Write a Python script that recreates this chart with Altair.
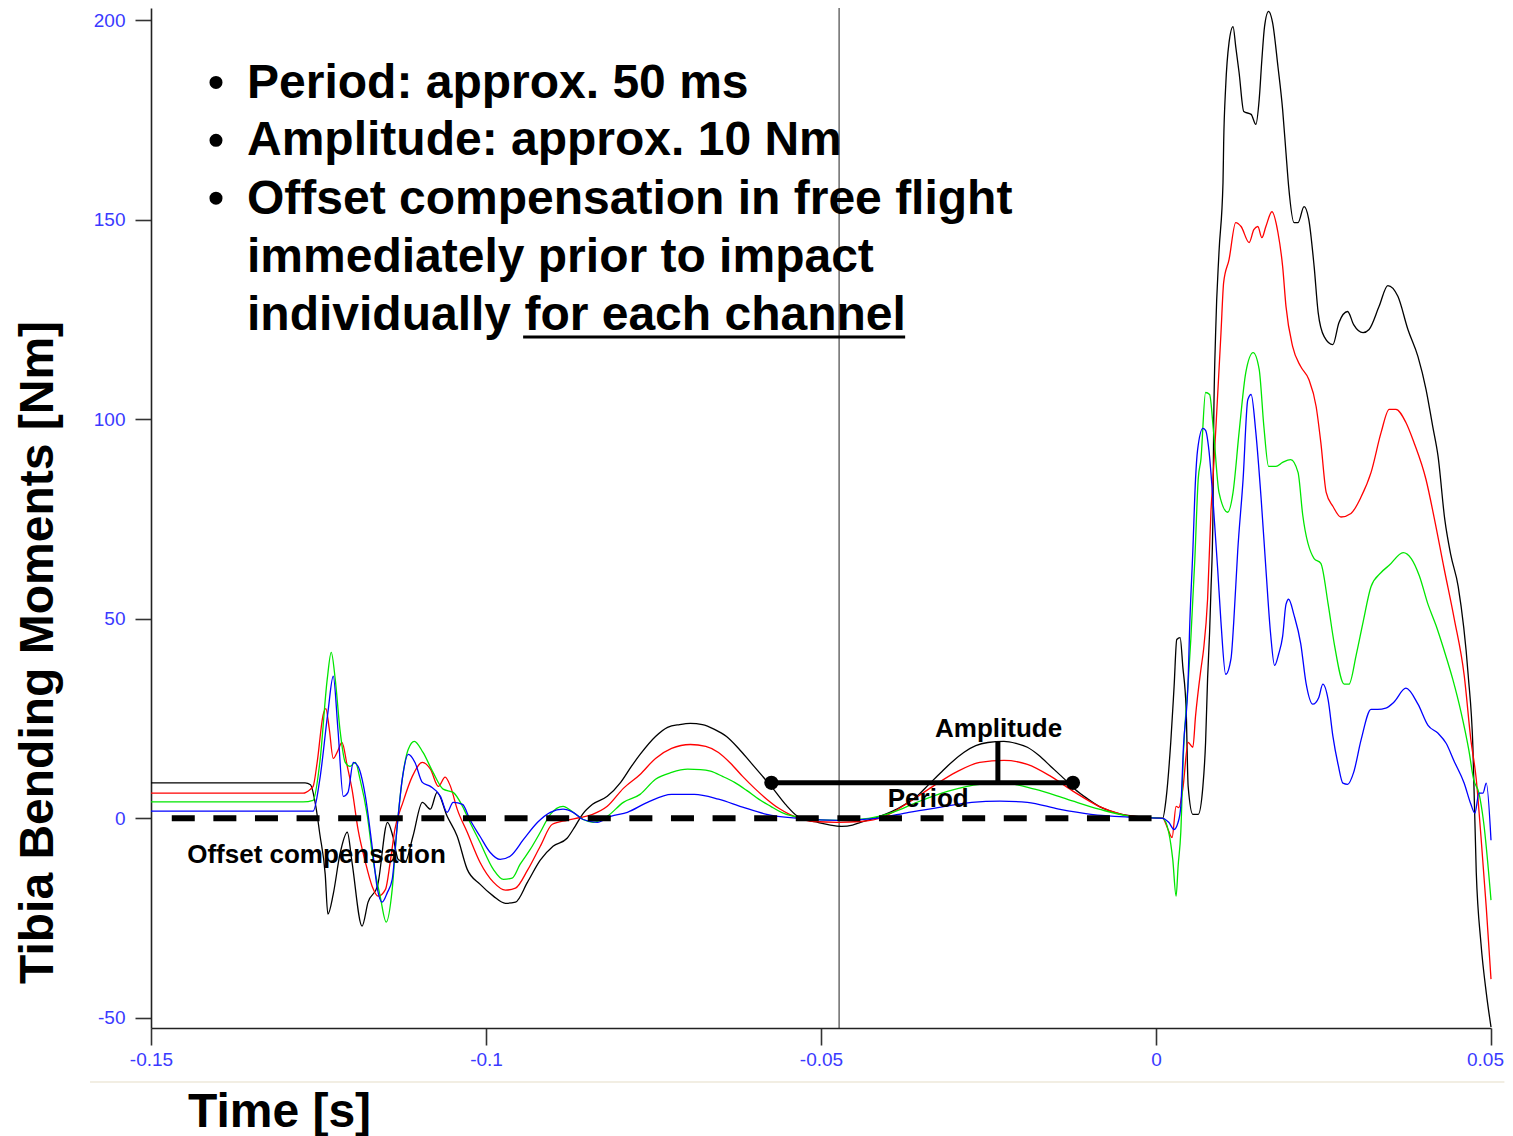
import altair as alt
import pandas as pd

# Time in milliseconds (axis labels shown in seconds), moments in Nm
black = [(-150, 8.9), (-127.7, 8.9), (-127.0, 8.9), (-126.2, 8.4), (-125.4, 3.0), (-124.8, -4.0),
         (-124.0, -14.0), (-123.6, -24.0), (-122.8, -19.0), (-121.8, -9.0), (-120.7, -3.5), (-120.0, -11.0),
         (-118.5, -27.0), (-117.6, -21.0), (-116.2, -17.0), (-114.7, -1.0), (-113.9, -4.5), (-113.1, -10.3),
         (-112.1, -11.0), (-110.9, -4.5), (-109.5, 4.0), (-108.3, 2.3), (-107.3, 6.5), (-105.8, 0.5),
         (-104.3, -4.5), (-102.8, -12.8), (-100.9, -16.5), (-98.9, -19.5), (-97.1, -21.3), (-95.6, -21.0),
         (-93.8, -16.0), (-91.9, -10.5), (-90.0, -7.0), (-87.9, -5.0), (-86.7, -2.0), (-85.6, 1.0),
         (-84.1, 3.5), (-81.9, 5.5), (-79.9, 9.0), (-78.3, 13.0), (-77.0, 16.0), (-74.7, 20.5),
         (-72.9, 22.8), (-71.1, 23.5), (-69.5, 23.8), (-67.7, 23.5), (-65.9, 22.3), (-64.1, 20.5),
         (-62.3, 17.5), (-60.5, 14.0), (-58.7, 10.5), (-57.1, 7.3), (-55.3, 3.5), (-53.5, 0.5),
         (-51.9, -0.5), (-50.5, -1.0), (-48.6, -1.7), (-46.9, -2.0), (-45.3, -1.7), (-44.1, -1.0),
         (-41.7, 0.2), (-38.7, 2.3), (-35.7, 5.5), (-33.9, 8.5), (-32.1, 11.5), (-30.4, 14.2),
         (-28.7, 16.5), (-26.9, 18.2), (-25.1, 19.0), (-22.7, 19.3), (-20.9, 18.8), (-19.2, 17.8),
         (-17.5, 15.8), (-15.7, 13.0), (-13.9, 10.2), (-12.1, 7.3), (-10.3, 5.0), (-8.5, 3.0),
         (-6.8, 1.8), (-5.1, 1.0), (-2.3, 0.4), (1.0, 0.0), (1.5, 4.8), (2.2, 19.0), (2.7, 33.0),
         (3.1, 44.8), (3.6, 45.3), (4.0, 38.0), (4.5, 27.3), (4.8, 8.0), (5.5, 1.0), (6.3, 1.0),
         (7.0, 8.0), (7.4, 19.0), (7.7, 35.0), (8.0, 46.6), (8.2, 57.0), (8.5, 76.0), (8.6, 96.7),
         (8.9, 121.7), (9.4, 141.8), (10.0, 159.3), (10.1, 169.3), (10.4, 183.4), (10.9, 194.4),
         (11.5, 198.4), (11.9, 193.4), (12.4, 186.9), (13.1, 177.1), (14.2, 176.4), (14.9, 173.9),
         (15.4, 180.1), (15.8, 190.1), (16.2, 198.4), (16.8, 202.2), (17.4, 199.4), (18.2, 188.4),
         (18.9, 177.6), (19.4, 166.8), (19.8, 158.3), (20.6, 149.3), (21.2, 149.3), (22.1, 153.3),
         (22.8, 150.1), (23.6, 138.3), (24.2, 126.8), (25.1, 120.7), (26.4, 118.7), (27.3, 124.2),
         (28.6, 127.0), (29.5, 123.7), (30.9, 121.7), (31.8, 122.5), (33.3, 128.3), (34.6, 133.5),
         (36.1, 130.8), (37.6, 122.5), (39.1, 115.7), (40.3, 107.5), (41.3, 98.2), (42.1, 90.7),
         (43.1, 74.9), (44.0, 66.0), (45.1, 58.1), (46.6, 35.8), (47.3, 17.8), (47.8, -13.5),
         (48.5, -31.3), (49.3, -43.8), (50.0, -52.3)]

red = [(-150, 6.3), (-127.3, 6.3), (-126.2, 7.3), (-125.8, 8.0), (-125.2, 14.0), (-124.3, 26.0),
       (-123.9, 27.5), (-123.4, 22.5), (-122.8, 15.0), (-122.1, 17.0), (-121.5, 19.0), (-120.7, 13.0),
       (-120.0, 7.3), (-119.1, -2.8), (-118.0, -11.0), (-117.0, -17.0), (-116.1, -19.5), (-115.0, -17.8),
       (-114.3, -11.0), (-113.6, -2.8), (-112.4, 4.0), (-111.0, 10.5), (-109.5, 14.0), (-108.3, 12.3),
       (-107.1, 8.0), (-106.1, 10.3), (-105.3, 8.0), (-104.3, 2.3), (-102.8, -3.5), (-100.9, -11.0),
       (-98.9, -16.0), (-97.1, -18.0), (-95.6, -17.5), (-93.8, -13.0), (-91.9, -7.0), (-90.1, -1.5),
       (-87.9, -0.5), (-85.9, 0.2), (-84.1, 1.0), (-81.9, 3.0), (-79.5, 7.5), (-77.0, 11.0),
       (-74.7, 15.0), (-72.3, 17.5), (-69.5, 18.5), (-67.2, 18.0), (-65.3, 16.5), (-63.5, 13.8),
       (-61.7, 10.5), (-59.9, 7.5), (-58.1, 4.8), (-56.3, 2.5), (-54.7, 1.0), (-51.1, -0.8),
       (-47.5, -1.0), (-44.1, -0.8), (-40.5, 0.5), (-36.9, 4.0), (-33.3, 8.0), (-29.9, 11.5),
       (-26.3, 14.0), (-22.7, 14.5), (-19.2, 13.5), (-15.7, 10.5), (-12.1, 6.5), (-8.5, 3.0),
       (-5.1, 1.0), (-2.3, 0.3), (1.0, 0.0), (1.8, -2.8), (2.4, -4.8), (3.0, 3.0), (3.4, 2.7),
       (4.0, 7.3), (4.8, 19.0), (5.5, 17.8), (5.9, 25.6), (6.7, 37.3), (7.1, 42.3), (7.7, 54.9),
       (8.2, 76.9), (8.5, 85.0), (8.9, 96.7), (9.7, 121.7), (10.1, 134.3), (10.9, 140.0),
       (11.9, 149.3), (12.7, 148.3), (13.9, 144.3), (14.6, 147.5), (15.2, 148.3), (15.8, 145.5),
       (16.4, 148.3), (17.3, 152.0), (18.2, 146.8), (18.9, 138.3), (19.4, 128.3), (20.4, 118.2),
       (21.6, 113.2), (22.8, 110.0), (23.9, 103.2), (24.6, 94.2), (25.4, 81.7), (26.4, 78.2),
       (27.6, 75.5), (29.1, 76.4), (30.6, 80.5), (32.1, 86.7), (33.6, 96.7), (34.8, 102.5),
       (35.8, 102.5), (37.3, 99.2), (38.5, 94.2), (40.3, 84.9), (41.5, 75.5), (43.0, 62.6),
       (44.5, 50.1), (46.0, 35.8), (47.0, 19.6), (47.8, 9.8), (48.5, -4.5), (49.3, -22.5),
       (50.0, -40.3)]

green = [(-150, 4.1), (-127.3, 4.1), (-125.8, 4.5), (-124.8, 14.0), (-123.7, 34.8), (-123.1, 41.6),
         (-122.5, 34.8), (-121.8, 22.3), (-121.0, 14.0), (-120.3, 13.0), (-119.5, 14.0), (-118.8, 9.8),
         (-117.7, 0.5), (-116.8, -11.0), (-115.8, -19.5), (-114.9, -26.0), (-114.0, -17.8), (-113.3, -2.8),
         (-112.5, 9.8), (-111.6, 17.3), (-110.7, 19.3), (-109.4, 16.5), (-107.9, 11.5), (-106.4, 7.3),
         (-104.9, 6.5), (-103.5, 3.0), (-102.4, -1.0), (-100.9, -6.0), (-98.9, -12.8), (-97.4, -15.3),
         (-96.1, -15.0), (-94.9, -11.5), (-93.4, -7.8), (-91.9, -3.5), (-90.4, 1.0), (-88.5, 3.0),
         (-87.0, 1.5), (-85.5, -0.3), (-84.0, -1.0), (-81.9, 0.5), (-79.5, 4.0), (-77.0, 6.0),
         (-74.7, 9.8), (-72.3, 11.5), (-69.9, 12.3), (-68.0, 12.2), (-66.5, 11.8), (-64.7, 10.5),
         (-62.9, 9.0), (-61.1, 7.0), (-59.3, 4.8), (-57.5, 3.0), (-55.9, 1.5), (-52.3, 0.0),
         (-47.5, -0.5), (-42.9, 0.0), (-39.3, 1.5), (-35.7, 4.0), (-31.0, 6.8), (-26.3, 8.5),
         (-22.7, 8.8), (-18.1, 7.3), (-13.3, 4.8), (-8.5, 2.3), (-3.9, 0.5), (1.0, 0.0), (1.9, -3.5),
         (2.5, -10.3), (3.0, -19.5), (3.3, -12.0), (3.7, -3.5), (4.1, 16.5), (4.8, 34.0), (5.2, 45.0),
         (5.8, 65.0), (6.3, 85.0), (6.7, 89.9), (7.4, 106.7), (8.0, 106.2), (8.6, 96.7), (9.4, 81.7),
         (10.7, 76.7), (11.5, 81.7), (12.4, 96.7), (13.4, 111.7), (14.5, 116.7), (15.4, 112.5),
         (16.1, 98.2), (16.8, 88.2), (17.9, 88.2), (18.9, 89.2), (20.1, 89.9), (21.2, 86.7),
         (21.9, 76.0), (23.6, 65.1), (24.6, 63.9), (25.7, 53.6), (26.6, 43.8), (28.1, 33.6),
         (28.8, 33.6), (29.9, 41.1), (30.9, 49.1), (32.1, 58.1), (33.6, 61.6), (34.8, 63.4),
         (36.9, 66.6), (38.1, 65.1), (39.3, 60.8), (40.6, 53.6), (41.8, 48.3), (43.0, 42.1),
         (44.3, 34.8), (45.5, 26.8), (46.7, 17.0), (47.4, 9.8), (48.2, 6.3), (48.9, -1.0),
         (50.0, -20.5)]

blue = [(-150, 1.8), (-127.0, 1.8), (-125.8, 1.8), (-124.8, 9.8), (-123.6, 26.5), (-122.8, 35.6),
        (-122.1, 22.3), (-121.3, 5.5), (-120.6, 6.5), (-119.8, 14.0), (-119.1, 13.0), (-118.0, 5.5),
        (-117.0, -7.0), (-116.2, -17.8), (-115.5, -21.0), (-114.7, -18.5), (-114.0, -15.3), (-113.3, -2.8),
        (-112.5, 9.8), (-111.6, 16.0), (-110.6, 14.0), (-109.5, 9.0), (-108.3, 8.0), (-106.8, 5.5),
        (-105.8, 1.5), (-104.9, 4.0), (-103.5, 3.5), (-102.4, -0.3), (-100.9, -4.5), (-99.4, -8.5),
        (-97.9, -10.3), (-96.4, -9.5), (-94.4, -5.3), (-92.3, -1.0), (-90.4, 1.5), (-88.5, 2.3),
        (-87.0, 1.5), (-85.5, -0.3), (-83.4, -1.0), (-81.4, 0.5), (-78.9, 1.5), (-75.9, 4.0),
        (-72.3, 6.0), (-68.9, 6.0), (-65.3, 4.8), (-61.7, 2.8), (-58.1, 1.0), (-53.5, 0.0),
        (-47.5, -0.5), (-41.7, 0.0), (-36.9, 1.5), (-32.1, 2.8), (-27.5, 4.0), (-23.3, 4.3),
        (-19.2, 4.0), (-14.5, 2.3), (-9.7, 1.0), (-3.9, 0.3), (1.0, 0.0), (1.9, -1.0), (2.7, -2.8),
        (3.3, -1.0), (3.7, 3.0), (4.1, 18.0), (4.8, 34.8), (5.0, 46.6), (5.5, 67.1), (5.9, 85.0),
        (6.2, 92.2), (7.0, 97.7), (7.4, 97.2), (7.9, 92.2), (8.5, 79.9), (9.2, 62.6), (9.7, 49.1),
        (10.4, 36.1), (11.2, 40.1), (11.6, 49.1), (12.2, 67.1), (13.0, 85.0), (13.7, 104.9),
        (14.2, 106.2), (14.9, 96.7), (15.7, 79.9), (16.4, 62.6), (17.1, 46.3), (17.7, 38.3),
        (18.3, 41.1), (18.9, 45.6), (19.4, 53.6), (19.8, 54.9), (20.6, 50.9), (21.6, 43.8),
        (22.4, 33.8), (23.4, 28.6), (24.3, 30.3), (24.9, 33.6), (25.7, 29.6), (26.4, 20.6),
        (27.2, 13.3), (27.9, 8.8), (28.6, 8.5), (29.5, 11.5), (30.6, 19.6), (32.1, 27.3),
        (33.1, 27.3), (34.3, 27.6), (35.5, 29.1), (37.3, 32.6), (39.1, 28.6), (40.6, 23.3),
        (42.1, 21.3), (43.3, 18.8), (44.5, 14.3), (46.0, 8.8), (47.0, 3.5), (47.6, 1.3),
        (48.2, 6.3), (48.8, 6.3), (49.3, 8.8), (50.0, -5.5)]

series = [("black", "#000000", black), ("red", "#ff0000", red),
          ("green", "#00e600", green), ("blue", "#0000ff", blue)]

x_ticks = [-150, -100, -50, 0, 50]
y_ticks = [-50, 0, 50, 100, 150, 200]

XDOM = [-150, 50]
YDOM = [-52.55, 203.06]
FONT = "Liberation Sans"

xscale = alt.Scale(domain=XDOM, nice=False, zero=False)
yscale = alt.Scale(domain=YDOM, nice=False, zero=False)
xaxis = alt.Axis(values=x_ticks, labelExpr="'' + datum.value / 1000", title="Time [s]",
                 titleX=128, titleY=98.7, titleAlign="center", titleBaseline="alphabetic",
                 tickSize=17, labelPadding=5, grid=False, labelFlush=False, labelOverlap=False,
                 labelOffset={"condition": {"test": "datum.value === 50", "value": -6}, "value": 0})
yaxis = alt.Axis(values=y_ticks, labelExpr="'' + datum.value", title="Tibia Bending Moments [Nm]",
                 titleX=-98.5, titleY=644, titleAngle=270, titleAlign="center",
                 titleBaseline="alphabetic", tickSize=16, labelPadding=10, grid=False,
                 labelFlush=False, labelOverlap=False)

one = pd.DataFrame({"d": [0]})


def X(t):
    return alt.X(datum=t, scale=xscale, axis=xaxis)


def Y(v):
    return alt.Y(datum=v, scale=yscale, axis=yaxis)


layers = []

# faint slide separator line below the axis
layers.append(alt.Chart(one).mark_rule(color="#eee8da", strokeWidth=1.5).encode(
    x=X(-159.1), x2=alt.X2(datum=52.0), y=Y(-66.1)))

# vertical cursor line
layers.append(alt.Chart(one).mark_rule(color="#222222", strokeWidth=1).encode(
    x=X(-47.3), y=Y(YDOM[1]), y2=alt.Y2(datum=YDOM[0])))

for name, col, pts in series:
    df = pd.DataFrame(pts, columns=["t", "v"])
    df["i"] = range(len(df))
    layers.append(alt.Chart(df).mark_line(color=col, strokeWidth=1.3, interpolate="monotone").encode(
        x=alt.X("t:Q", scale=xscale, axis=xaxis),
        y=alt.Y("v:Q", scale=yscale, axis=yaxis),
        order="i:Q"))

# dashed offset-compensation line
layers.append(alt.Chart(one).mark_rule(color="black", strokeWidth=6, strokeDash=[23, 18.6],
                                       strokeCap="butt").encode(
    x=X(-146.9), x2=alt.X2(datum=1.1), y=Y(0)))

# period bar with end dots
layers.append(alt.Chart(one).mark_rule(color="black", strokeWidth=5).encode(
    x=X(-57.4), x2=alt.X2(datum=-12.4), y=Y(8.9)))
for tt in (-57.4, -12.4):
    layers.append(alt.Chart(one).mark_point(filled=True, shape="circle", size=205, color="black",
                                            opacity=1).encode(x=X(tt), y=Y(8.9)))
# amplitude bar
layers.append(alt.Chart(one).mark_rule(color="black", strokeWidth=5).encode(
    x=X(-23.6), y=Y(8.9), y2=alt.Y2(datum=19.2)))


def txt(s, t, v, size, align="left"):
    return alt.Chart(one).mark_text(text=s, font=FONT, fontWeight="bold", fontSize=size,
                                    align=align, baseline="alphabetic", color="black").encode(
        x=X(t), y=Y(v))


layers.append(txt("Amplitude", -23.5, 20.4, 26, "center"))
layers.append(txt("Period", -34.0, 2.76, 26, "center"))
layers.append(txt("Offset compensation", -144.6, -11.3, 26, "left"))

lines = ["Period: approx. 50 ms", "Amplitude: approx. 10 Nm", "Offset compensation in free flight",
         "immediately prior to impact", "individually for each channel"]
baselines = [180.5, 166.2, 151.4, 136.9, 122.4]
for s, b in zip(lines, baselines):
    layers.append(txt(s, -135.67, b, 48, "left"))
for b in (184.4, 169.9, 155.4):
    layers.append(alt.Chart(one).mark_point(filled=True, shape="circle", size=170, color="black",
                                            opacity=1).encode(x=X(-140.3), y=Y(b)))
# underline of "for each channel"
layers.append(alt.Chart(one).mark_rule(color="black", strokeWidth=3).encode(
    x=X(-94.46), x2=alt.X2(datum=-37.44), y=Y(120.6)))

chart = alt.layer(*layers).properties(
    width=1340, height=1020,
    autosize=alt.AutoSizeParams(type="none"),
    padding={"left": 143, "top": 0, "right": 14, "bottom": 112},
).configure_axis(
    domainColor="#222222", domainWidth=1.6, tickColor="#333333", tickWidth=1.6,
    labelFont=FONT, labelFontSize=19, labelColor="#3a3aff",
    titleFont=FONT, titleFontSize=48, titleFontWeight="bold", titleColor="black",
).configure_view(stroke=None)

chart.save("out.html", embed_options={"renderer": "svg", "actions": False})
